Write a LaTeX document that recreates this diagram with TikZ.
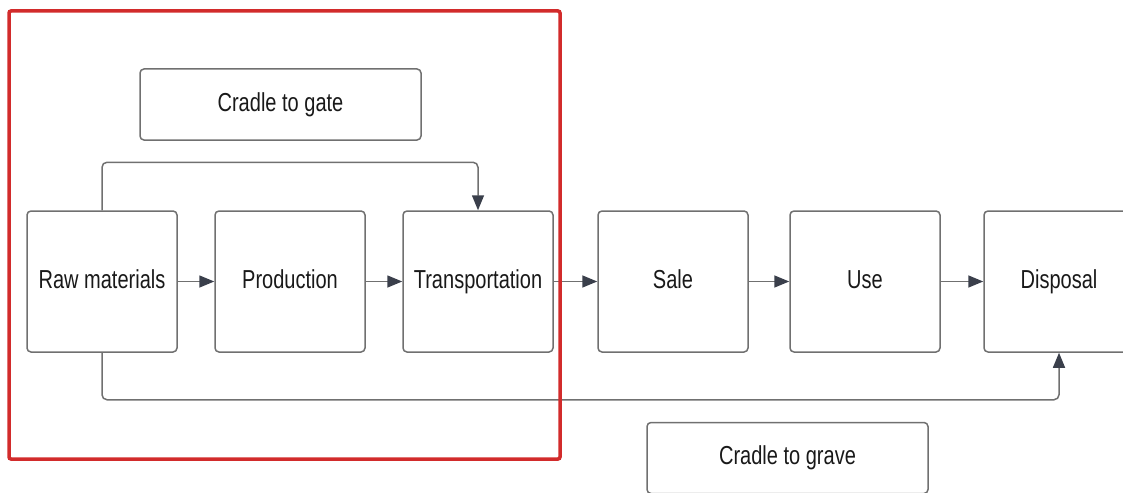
\documentclass[tikz,border=0pt]{standalone}
\usepackage{fontspec}
\setmainfont{Liberation Sans}[FakeStretch=0.77]
\usetikzlibrary{arrows.meta}
\definecolor{linegray}{HTML}{707070}
\definecolor{tipgray}{HTML}{3A3F4B}
\definecolor{framered}{HTML}{D22B2B}
\begin{document}
\begin{tikzpicture}[x=1pt,y=-1pt,
  stage/.style={draw=linegray,line width=1.5pt,rounded corners=4pt,
    minimum width=150pt,minimum height=141pt,inner sep=0pt,
    text height=13pt,text depth=0pt,
    text=black!90,font=\fontsize{26}{30}\selectfont},
  scopebox/.style={stage,minimum width=281pt,minimum height=71pt},
  flow/.style={draw=linegray,line width=1.5pt,rounded corners=5pt,
    -{Triangle[length=15pt,width=12pt,color=tipgray]}}]
\clip (0,0) rectangle (1123,492);
\path (102,281.5)
    node (raw) [stage] {Raw materials} ++(188,0)
    node (prod) [stage] {Production} ++(188,0)
    node (trans) [stage] {Transportation} ++(195,0)
    node (sale) [stage] {Sale} ++(192,0)
    node (use) [stage] {Use} ++(194,0)
    node (disp) [stage] {Disposal};
\node (gate) [scopebox] at (280.5,104.5) {Cradle to gate};
\node (grave) [scopebox] at (787.5,458) {Cradle to grave};
\draw[flow] (raw) -- (prod);
\draw[flow] (prod) -- (trans);
\draw[flow] (trans) -- (sale);
\draw[flow] (sale) -- (use);
\draw[flow] (use) -- (disp);
\draw[flow] (raw.north) -- ++(0,-48) -| (trans.north);
\draw[flow] (raw.south) -- ++(0,47) -| (disp.south);
\draw[framered,line width=3.5pt,rounded corners=2pt] (9,11) rectangle (560,459);
\end{tikzpicture}
\end{document}
